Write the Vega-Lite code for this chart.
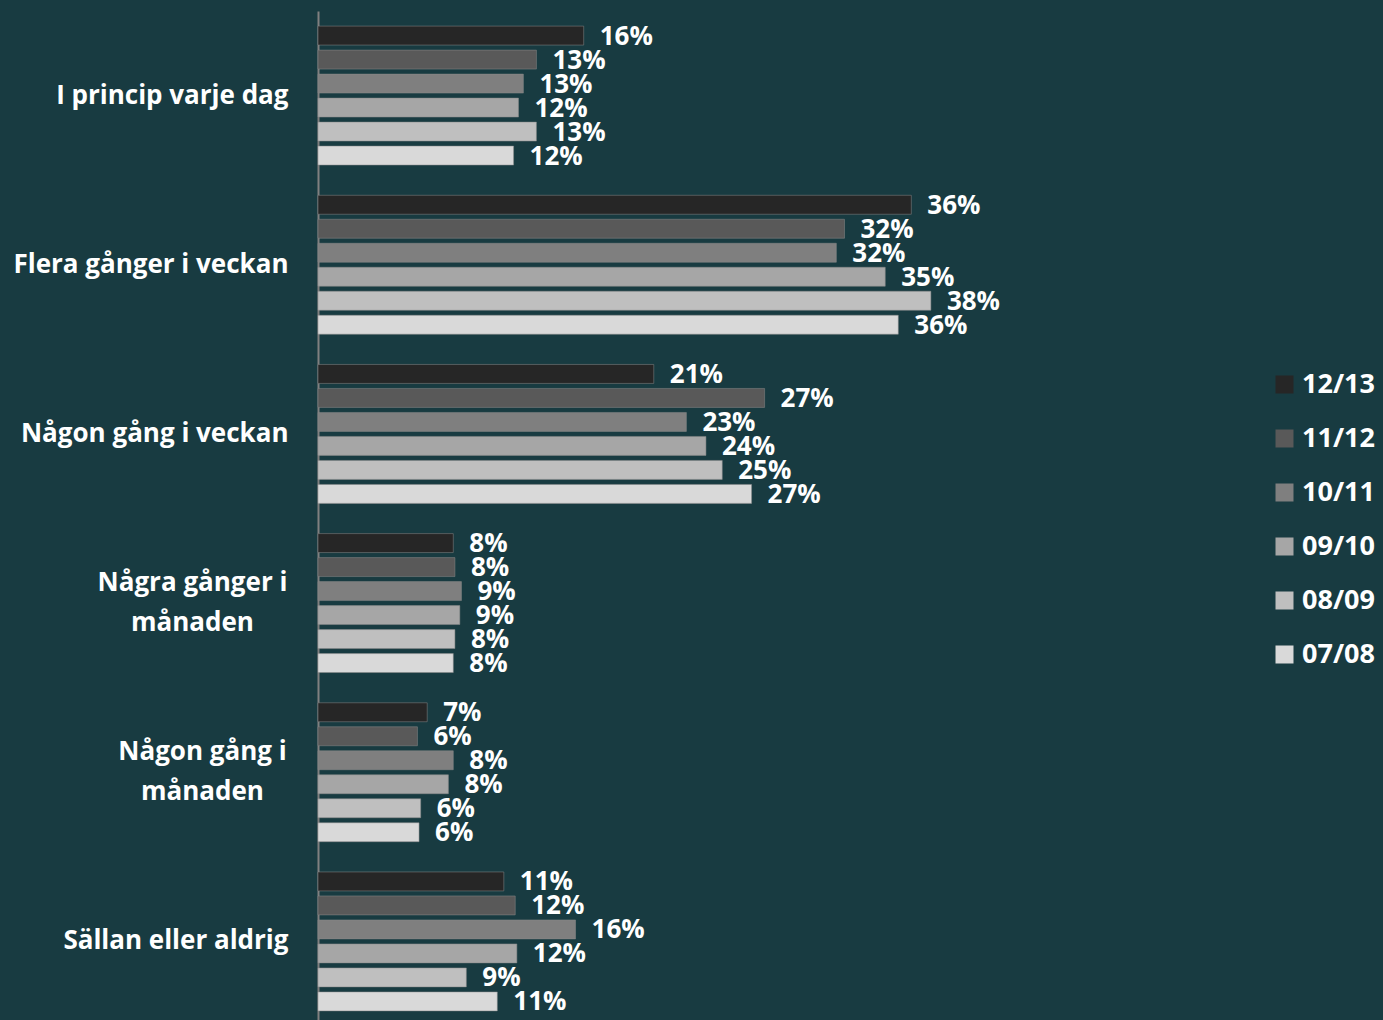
{
  "$schema": "https://vega.github.io/schema/vega-lite/v6.json",
  "width": 815,
  "height": 1009,
  "autosize": {"type": "none"},
  "padding": {"left": 318, "top": 11, "right": 250, "bottom": 0},
  "background": "#183b41",
  "config": {"view": {"stroke": null}, "font": "Open Sans"},
  "data": {
    "values": [
      {"cat": "I princip varje dag", "period": "12/13", "v": 0.163},
      {"cat": "I princip varje dag", "period": "11/12", "v": 0.134},
      {"cat": "I princip varje dag", "period": "10/11", "v": 0.126},
      {"cat": "I princip varje dag", "period": "09/10", "v": 0.123},
      {"cat": "I princip varje dag", "period": "08/09", "v": 0.134},
      {"cat": "I princip varje dag", "period": "07/08", "v": 0.120},
      {"cat": "Flera gånger i veckan", "period": "12/13", "v": 0.364},
      {"cat": "Flera gånger i veckan", "period": "11/12", "v": 0.323},
      {"cat": "Flera gånger i veckan", "period": "10/11", "v": 0.318},
      {"cat": "Flera gånger i veckan", "period": "09/10", "v": 0.348},
      {"cat": "Flera gånger i veckan", "period": "08/09", "v": 0.376},
      {"cat": "Flera gånger i veckan", "period": "07/08", "v": 0.356},
      {"cat": "Någon gång i veckan", "period": "12/13", "v": 0.206},
      {"cat": "Någon gång i veckan", "period": "11/12", "v": 0.274},
      {"cat": "Någon gång i veckan", "period": "10/11", "v": 0.226},
      {"cat": "Någon gång i veckan", "period": "09/10", "v": 0.238},
      {"cat": "Någon gång i veckan", "period": "08/09", "v": 0.248},
      {"cat": "Någon gång i veckan", "period": "07/08", "v": 0.266},
      {"cat": "Några gånger i månaden", "period": "12/13", "v": 0.083},
      {"cat": "Några gånger i månaden", "period": "11/12", "v": 0.084},
      {"cat": "Några gånger i månaden", "period": "10/11", "v": 0.088},
      {"cat": "Några gånger i månaden", "period": "09/10", "v": 0.087},
      {"cat": "Några gånger i månaden", "period": "08/09", "v": 0.084},
      {"cat": "Några gånger i månaden", "period": "07/08", "v": 0.083},
      {"cat": "Någon gång i månaden", "period": "12/13", "v": 0.067},
      {"cat": "Någon gång i månaden", "period": "11/12", "v": 0.061},
      {"cat": "Någon gång i månaden", "period": "10/11", "v": 0.083},
      {"cat": "Någon gång i månaden", "period": "09/10", "v": 0.080},
      {"cat": "Någon gång i månaden", "period": "08/09", "v": 0.063},
      {"cat": "Någon gång i månaden", "period": "07/08", "v": 0.062},
      {"cat": "Sällan eller aldrig", "period": "12/13", "v": 0.114},
      {"cat": "Sällan eller aldrig", "period": "11/12", "v": 0.121},
      {"cat": "Sällan eller aldrig", "period": "10/11", "v": 0.158},
      {"cat": "Sällan eller aldrig", "period": "09/10", "v": 0.122},
      {"cat": "Sällan eller aldrig", "period": "08/09", "v": 0.091},
      {"cat": "Sällan eller aldrig", "period": "07/08", "v": 0.110}
    ]
  },
  "encoding": {
    "y": {
      "field": "cat",
      "type": "nominal",
      "sort": ["I princip varje dag", "Flera gånger i veckan", "Någon gång i veckan", "Några gånger i månaden", "Någon gång i månaden", "Sällan eller aldrig"],
      "scale": {"range": [0, 1015], "paddingInner": 0, "paddingOuter": 0},
      "axis": {
        "title": null,
        "ticks": false,
        "domainColor": "#808080",
        "domainWidth": 2,
        "labelFontSize": 26,
        "labelFontWeight": "bold",
        "labelColor": "#ffffff",
        "labelLimit": 400,
        "labelLineHeight": 40,
        "labelAlign": {"condition": {"test": "indexof(datum.value, 'månaden') >= 0", "value": "center"}, "value": "right"},
        "labelOffset": {"condition": {"test": "indexof(datum.value, 'månaden') >= 0", "value": -20}, "value": 0},
        "labelPadding": {"condition": [{"test": "datum.value == 'Några gånger i månaden'", "value": 126}, {"test": "datum.value == 'Någon gång i månaden'", "value": 116}], "value": 30},
        "labelExpr": "datum.label == 'Några gånger i månaden' ? ['Några gånger i', 'månaden'] : datum.label == 'Någon gång i månaden' ? ['Någon gång i', 'månaden'] : datum.label"
      }
    },
    "yOffset": {
      "field": "period",
      "type": "nominal",
      "sort": ["12/13", "11/12", "10/11", "09/10", "08/09", "07/08"],
      "scale": {"paddingInner": 0.21, "paddingOuter": 0.63}
    },
    "x": {"field": "v", "type": "quantitative", "scale": {"domain": [0, 0.5]}, "axis": null}
  },
  "layer": [
    {
      "mark": {"type": "bar", "stroke": "#8c8c8c", "strokeWidth": 1, "strokeOpacity": 0.5},
      "encoding": {
        "color": {
          "field": "period",
          "type": "nominal",
          "sort": ["12/13", "11/12", "10/11", "09/10", "08/09", "07/08"],
          "scale": {
            "domain": ["12/13", "11/12", "10/11", "09/10", "08/09", "07/08"],
            "range": ["#262626", "#595959", "#7f7f7f", "#a6a6a6", "#bfbfbf", "#d9d9d9"]
          },
          "legend": {
            "orient": "none",
            "legendX": 953,
            "legendY": 360,
            "padding": 0,
            "title": null,
            "symbolType": "square",
            "symbolSize": 324,
            "symbolStrokeWidth": 0,
            "labelFontSize": 27,
            "labelFontWeight": "bold",
            "labelColor": "#ffffff",
            "labelOffset": 4,
            "rowPadding": 26
          }
        }
      }
    },
    {
      "mark": {"type": "text", "align": "left", "baseline": "middle", "dx": 16, "dy": 1, "fontSize": 26, "fontWeight": "bold", "color": "#ffffff"},
      "encoding": {"text": {"field": "v", "type": "quantitative", "format": ".0%"}}
    }
  ]
}
